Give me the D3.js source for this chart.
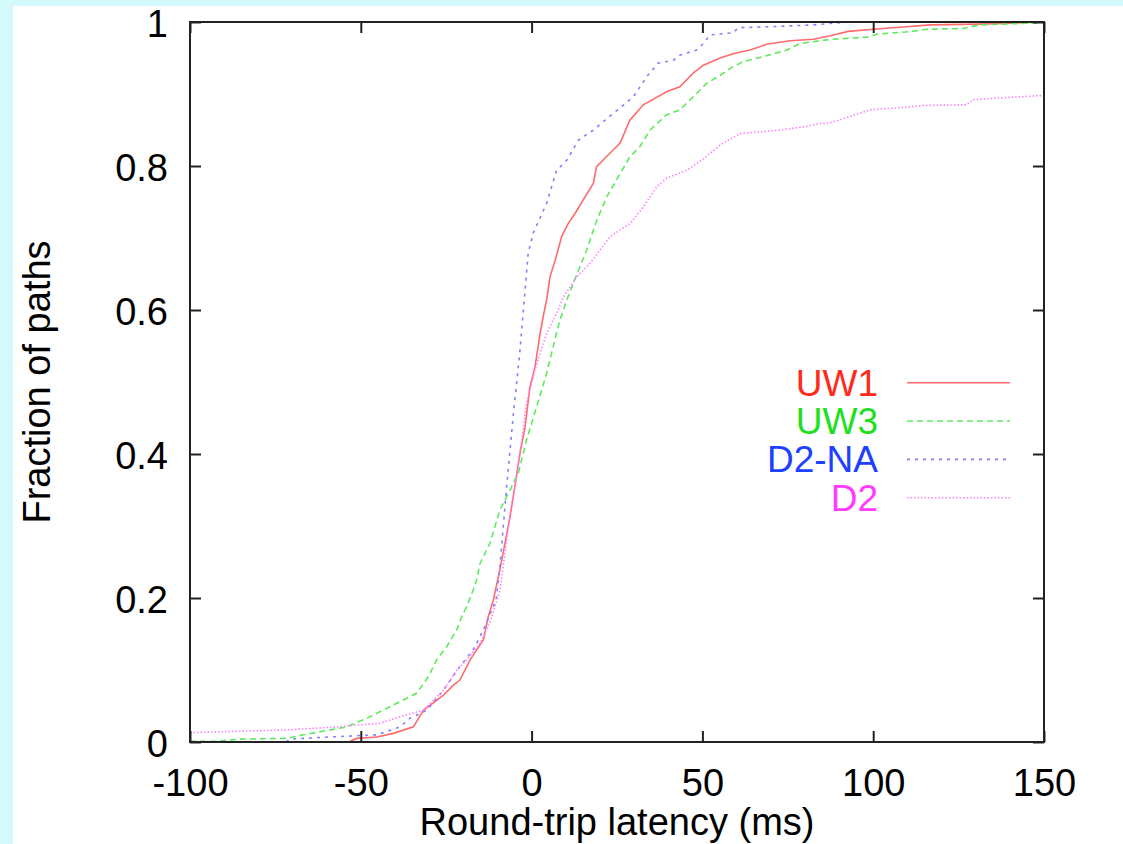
<!DOCTYPE html>
<html>
<head>
<meta charset="utf-8">
<script src="https://cdn.jsdelivr.net/npm/d3@7"></script>
<style>
  body { margin: 0; background: #d3f9fb; }
  svg { display: block; }
  text { font-family: "Liberation Sans", Arial, Helvetica, sans-serif; }
</style>
</head>
<body>
<script>
var width = 1123;
var height = 844;
var plotLeft = 190, plotRight = 1044, plotTop = 22, plotBottom = 742;

// x ticks and y ticks
var xTicks = [-100, -50, 0, 50, 100, 150];
var yTicks = [0, 0.2, 0.4, 0.6, 0.8, 1];

// series names as [latency ms, fraction]
var seriesNames = ['UW1', 'UW3', 'D2-NA', 'D2'];

var uw1 = [[-100,0],[-53.6,0],[-51.2,0.005],[-45.3,0.007],[-40.5,0.012],[-34.6,0.021],[-31.7,0.044],
  [-25.8,0.065],[-22.9,0.079],[-21,0.086],[-18,0.114],[-14.1,0.142],[-12.7,0.174],[-11.2,0.197],
  [-9.3,0.239],[-7.8,0.276],[-6.3,0.313],[-4.9,0.355],[-3.4,0.401],[-1.9,0.438],[-0.5,0.493],
  [1.0,0.521],[2.5,0.568],[3.4,0.591],[4.4,0.614],[5.4,0.646],[6.9,0.669],[8.8,0.702],[10.7,0.72],
  [12.7,0.734],[15.1,0.753],[18.1,0.776],[19.0,0.799],[23,0.818],[25.9,0.832],[28.8,0.864],
  [32.7,0.885],[39.5,0.903],[43.4,0.910],[47.3,0.929],[50.3,0.940],[55.2,0.950],[59,0.956],
  [63.9,0.961],[68.8,0.969],[75.6,0.974],[82.5,0.976],[87.4,0.981],[92.7,0.987],[100,0.99],
  [108.7,0.993],[116.6,0.996],[131,0.997],[150,1]];

var uw3 = [[-100,0.001],[-92.2,0.001],[-85.4,0.004],[-71.7,0.005],[-66.8,0.01],[-54.1,0.021],
  [-47.3,0.035],[-41.5,0.049],[-33.6,0.068],[-30.2,0.091],[-27.8,0.114],[-24.9,0.132],[-21.9,0.156],
  [-20.5,0.174],[-19,0.188],[-17.1,0.211],[-16.1,0.225],[-15.1,0.248],[-12.2,0.276],[-9.3,0.322],
  [-6.3,0.35],[-3.9,0.373],[-1.5,0.419],[1.5,0.466],[4.4,0.512],[7.3,0.568],[8.3,0.586],[10.3,0.614],
  [12.2,0.637],[16.1,0.683],[19.1,0.725],[22,0.757],[24.9,0.781],[28.8,0.813],[31.7,0.827],
  [34.7,0.85],[39.5,0.871],[43.4,0.878],[47.3,0.896],[51.3,0.915],[55.2,0.926],[59,0.938],
  [62,0.945],[67.9,0.952],[74.7,0.961],[78.6,0.970],[84.4,0.974],[88.2,0.976],[98.2,0.979],
  [101,0.983],[111.6,0.987],[115.7,0.99],[126.3,0.991],[131.3,0.996],[150,0.999]];

var d2na = [[-100,0],[-72,0],[-70.7,0.004],[-59,0.007],[-45.3,0.01],[-38.5,0.021],[-35.6,0.033],
  [-30.7,0.044],[-25.8,0.072],[-21,0.105],[-17.1,0.128],[-14.1,0.156],[-10.4,0.197],[-9.3,0.243],
  [-8.3,0.299],[-7.3,0.355],[-6.3,0.406],[-5.4,0.452],[-4.4,0.498],[-3.4,0.544],[-2.4,0.6],
  [-1.0,0.679],[0.5,0.707],[4.4,0.748],[7.3,0.794],[10.3,0.808],[13.7,0.836],[18.1,0.85],
  [23.9,0.873],[29.8,0.896],[33.7,0.924],[37.1,0.943],[41.5,0.947],[43.4,0.954],[48.3,0.961],
  [50.3,0.970],[52.2,0.982],[59,0.985],[60.5,0.992],[72.7,0.994],[82.5,0.996],[92.6,1],[150,1]];

var d2 = [[-100,0.013],[-70.7,0.017],[-57.1,0.021],[-44.4,0.026],[-38.5,0.035],[-31.7,0.044],
  [-25.8,0.072],[-21.9,0.1],[-19,0.114],[-15.1,0.137],[-12,0.169],[-9.3,0.21],[-7.8,0.262],
  [-6.3,0.318],[-4.4,0.368],[-2.9,0.419],[-1.5,0.47],[1.0,0.517],[4.4,0.568],[7.3,0.595],
  [9.3,0.618],[13.2,0.646],[17.1,0.665],[23,0.702],[28.8,0.72],[32.7,0.743],[36.6,0.771],
  [39.5,0.783],[45.4,0.794],[50.3,0.81],[55.2,0.829],[61,0.845],[72.7,0.85],[80.5,0.855],
  [84.4,0.859],[87.4,0.86],[92.7,0.868],[99.1,0.878],[107.8,0.881],[114.6,0.884],[127.3,0.885],
  [129.2,0.892],[135,0.894],[150,0.898]];

var seriesData = [uw1, uw3, d2na, d2];
var textColors = ['#ff2a1a', '#1ee01e', '#2040ff', '#ff3cff'];
var lineColors = ['#ff6a6a', '#5eea5e', '#8080ff', '#ff80ff'];
var dashes = [null, '6,4', '3,5', '1.5,2'];

var svg = d3.select('body').append('svg')
  .attr('width', width)
  .attr('height', height);

// white page area inside the cyan frame
svg.append('rect')
  .attr('x', 13).attr('y', 6)
  .attr('width', width - 13).attr('height', height - 6)
  .attr('fill', '#ffffff');

var x = d3.scaleLinear().domain([-100, 150]).range([plotLeft, plotRight]);
var y = d3.scaleLinear().domain([0, 1]).range([plotBottom, plotTop]);

var line = d3.line()
  .x(function(d) { return x(d[0]); })
  .y(function(d) { return y(d[1]); });

var plot = svg.append('g');
plot.append('defs').append('clipPath').attr('id', 'clip')
  .append('rect').attr('x', plotLeft).attr('y', plotTop)
  .attr('width', plotRight - plotLeft).attr('height', plotBottom - plotTop);

plot.selectAll('path.series')
  .data(seriesData)
  .enter().append('path')
  .attr('class', 'series')
  .attr('clip-path', 'url(#clip)')
  .attr('d', line)
  .attr('fill', 'none')
  .attr('stroke', function(d, i) { return lineColors[i]; })
  .attr('stroke-width', 1.6)
  .attr('stroke-dasharray', function(d, i) { return dashes[i]; });

// axes, ticks pointing inwards
var xAxis = d3.axisBottom(x).tickValues(xTicks).tickSizeInner(-11).tickSizeOuter(0).tickPadding(27)
  .tickFormat(function(d) { return String(d); });
var yAxis = d3.axisLeft(y).tickValues(yTicks).tickSizeInner(-11).tickSizeOuter(0).tickPadding(22)
  .tickFormat(function(d) { return String(d); });
var xTop = d3.axisTop(x).tickValues(xTicks).tickSizeInner(-11).tickSizeOuter(0).tickFormat('');
var yRight = d3.axisRight(y).tickValues(yTicks).tickSizeInner(-11).tickSizeOuter(0).tickFormat('');

svg.append('g').attr('transform', 'translate(0,' + plotBottom + ')').call(xAxis);
svg.append('g').attr('class', 'yaxis').attr('transform', 'translate(' + plotLeft + ',0)').call(yAxis);
svg.append('g').attr('transform', 'translate(0,' + plotTop + ')').call(xTop);
svg.append('g').attr('transform', 'translate(' + plotRight + ',0)').call(yRight);

svg.selectAll('.domain').remove();
svg.selectAll('.tick line').attr('stroke', '#222').attr('stroke-width', 2);
svg.selectAll('.tick text')
  .attr('fill', '#000')
  .style('font-size', '38px')
  .style('font-family', '"Liberation Sans", Arial, Helvetica, sans-serif');
svg.selectAll('.yaxis .tick text').attr('dy', '0.38em');

svg.append('rect')
  .attr('x', plotLeft).attr('y', plotTop)
  .attr('width', plotRight - plotLeft).attr('height', plotBottom - plotTop)
  .attr('fill', 'none')
  .attr('stroke', '#222')
  .attr('stroke-width', 2);

// axis titles
svg.append('text')
  .attr('x', (plotLeft + plotRight) / 2)
  .attr('y', 835)
  .attr('text-anchor', 'middle')
  .attr('font-size', '38px')
  .text('Round-trip latency (ms)');

svg.append('text')
  .attr('transform', 'translate(50,' + (plotTop + plotBottom) / 2 + ') rotate(-90)')
  .attr('text-anchor', 'middle')
  .attr('font-size', '38px')
  .text('Fraction of paths');

// legend
var legendY = d3.scalePoint().domain(seriesNames).range([382.7, 497.7]);
var legend = svg.append('g');
seriesNames.forEach(function(name, i) {
  legend.append('text')
    .attr('x', 878)
    .attr('y', legendY(name) + 13)
    .attr('text-anchor', 'end')
    .attr('font-size', '37px')
    .attr('fill', textColors[i])
    .text(name);
  legend.append('line')
    .attr('x1', 907).attr('x2', 1010)
    .attr('y1', legendY(name)).attr('y2', legendY(name))
    .attr('stroke', lineColors[i])
    .attr('stroke-width', 1.6)
    .attr('stroke-dasharray', dashes[i]);
});
</script>
</body>
</html>
